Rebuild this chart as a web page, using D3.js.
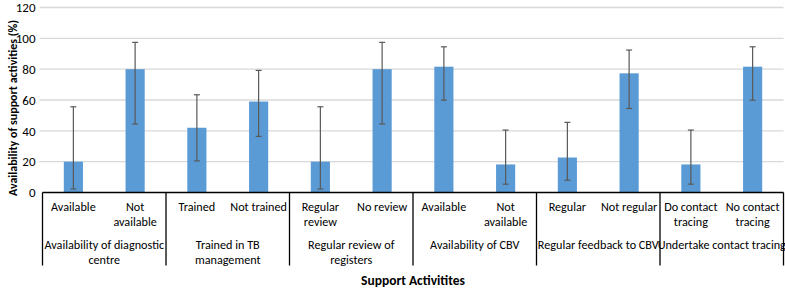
<!DOCTYPE html>
<html lang="en">
<head>
<meta charset="UTF-8" />
<script src="https://cdn.jsdelivr.net/npm/d3@7"></script>
<style>
    body { margin: 0; background: #fff; }
    text { font-family: Carlito, "Liberation Sans", Arial, sans-serif; fill: #000; }
</style>
</head>
<body>
<div id="chart"></div>
<script>
    // groups and their two categories
    var groups = ["Availability of diagnostic centre", "Trained in TB management", "Regular review of registers",
        "Availability of CBV", "Regular feedback to CBV", "Undertake contact tracing"];
    var groupLines = [["Availability of diagnostic", "centre"], ["Trained in TB", "management"], ["Regular review of", "registers"],
        ["Availability of CBV"], ["Regular feedback to CBV"], ["Undertake contact tracing"]];
    var categories = [["Available"], ["Not", "available"], ["Trained"], ["Not trained"], ["Regular", "review"], ["No review"],
        ["Available"], ["Not", "available"], ["Regular"], ["Not regular"], ["Do contact", "tracing"], ["No contact", "tracing"]];
    var values = [20, 80, 42, 59, 20, 80, 81.6, 18.2, 22.7, 77.3, 18.2, 81.6];
    var lower = [2.3, 44.4, 20.5, 36.4, 2.3, 44.4, 59.9, 5.4, 8, 54.5, 5.4, 59.9];
    var upper = [55.6, 97.4, 63.4, 79.2, 55.6, 97.4, 94.5, 40.5, 45.5, 92.4, 40.5, 94.5];
    var yTicks = [0, 20, 40, 60, 80, 100, 120];

    var width = 785, height = 289;
    var margin = { top: 7.5, right: 1.5, bottom: 96.5, left: 42.5 };
    var plotW = width - margin.left - margin.right,
        plotH = height - margin.top - margin.bottom;

    var svg = d3.select("#chart").append("svg")
        .attr("width", width)
        .attr("height", height);

    var g = svg.append("g")
        .attr("transform", `translate(${margin.left}, ${margin.top})`);

    var x = d3.scaleBand()
        .domain(d3.range(categories.length))
        .range([0, plotW]);

    var xg = d3.scaleBand()
        .domain(groups)
        .range([0, plotW]);

    var y = d3.scaleLinear()
        .domain([0, 120])
        .range([plotH, 0]);

    // gridlines
    g.append("g")
        .selectAll("line")
        .data(yTicks.slice(1))
        .enter().append("line")
        .attr("x1", -3)
        .attr("x2", plotW)
        .attr("y1", d => y(d))
        .attr("y2", d => y(d))
        .attr("stroke", "#d9d9d9")
        .attr("stroke-width", 1.3);

    // y axis labels
    var yAxis = g.append("g")
        .call(d3.axisLeft(y).tickValues(yTicks).tickSize(0).tickPadding(7));
    yAxis.select(".domain").remove();
    yAxis.selectAll("text")
        .style("font-size", "13px")
        .attr("fill", "#404040");

    // bars
    var barW = x.bandwidth() * 0.31;
    g.selectAll("rect.bar")
        .data(values)
        .enter().append("rect")
        .attr("class", "bar")
        .attr("x", (d, i) => x(i) + x.bandwidth() / 2 - barW / 2)
        .attr("y", d => y(d))
        .attr("width", barW)
        .attr("height", d => plotH - y(d))
        .attr("fill", "#5b9bd5");

    // error bars
    var err = g.selectAll("g.err")
        .data(values)
        .enter().append("g")
        .attr("class", "err")
        .attr("stroke", "#595959")
        .attr("stroke-width", 1.2);
    err.append("line")
        .attr("x1", (d, i) => x(i) + x.bandwidth() / 2)
        .attr("x2", (d, i) => x(i) + x.bandwidth() / 2)
        .attr("y1", (d, i) => y(upper[i]))
        .attr("y2", (d, i) => y(lower[i]));
    err.append("line")
        .attr("x1", (d, i) => x(i) + x.bandwidth() / 2 - 3)
        .attr("x2", (d, i) => x(i) + x.bandwidth() / 2 + 3)
        .attr("y1", (d, i) => y(upper[i]))
        .attr("y2", (d, i) => y(upper[i]));
    err.append("line")
        .attr("x1", (d, i) => x(i) + x.bandwidth() / 2 - 3)
        .attr("x2", (d, i) => x(i) + x.bandwidth() / 2 + 3)
        .attr("y1", (d, i) => y(lower[i]))
        .attr("y2", (d, i) => y(lower[i]));

    // category axis
    var axisDepth = 73;
    g.append("line")
        .attr("x1", 0).attr("x2", plotW)
        .attr("y1", plotH).attr("y2", plotH)
        .attr("stroke", "#000").attr("stroke-width", 1.3);

    var seps = groups.map(d => xg(d)).concat([plotW]);
    g.selectAll("line.sep")
        .data(seps)
        .enter().append("line")
        .attr("class", "sep")
        .attr("x1", d => d).attr("x2", d => d)
        .attr("y1", plotH).attr("y2", plotH + axisDepth)
        .attr("stroke", "#000").attr("stroke-width", 1.3);

    var catText = g.selectAll("text.cat")
        .data(categories)
        .enter().append("text")
        .attr("class", "cat")
        .attr("text-anchor", "middle")
        .style("font-size", "12.2px")
        .attr("fill", "#000");
    catText.selectAll("tspan")
        .data((d, i) => d.map(t => ({ t: t, i: i })))
        .enter().append("tspan")
        .attr("x", d => x(d.i) + x.bandwidth() / 2)
        .attr("y", (d, j) => plotH + 18.5 + j * 15)
        .text(d => d.t);

    var grpText = g.selectAll("text.grp")
        .data(groups)
        .enter().append("text")
        .attr("class", "grp")
        .attr("text-anchor", "middle")
        .style("font-size", "12.2px");
    grpText.selectAll("tspan")
        .data((d, i) => groupLines[i].map(t => ({ t: t, g: d })))
        .enter().append("tspan")
        .attr("x", d => xg(d.g) + xg.bandwidth() / 2)
        .attr("y", (d, j) => plotH + 56 + j * 15)
        .text(d => d.t);

    // axis titles
    svg.append("text")
        .attr("x", margin.left + plotW / 2)
        .attr("y", 284.5)
        .attr("text-anchor", "middle")
        .style("font-size", "13.5px")
        .style("font-weight", "bold")
        .text("Support Activitites");

    svg.append("text")
        .attr("transform", "translate(16.5, 108) rotate(-90)")
        .attr("text-anchor", "middle")
        .style("font-size", "12px")
        .style("font-weight", "bold")
        .text("Availability of support activities (%)");
</script>
</body>
</html>
